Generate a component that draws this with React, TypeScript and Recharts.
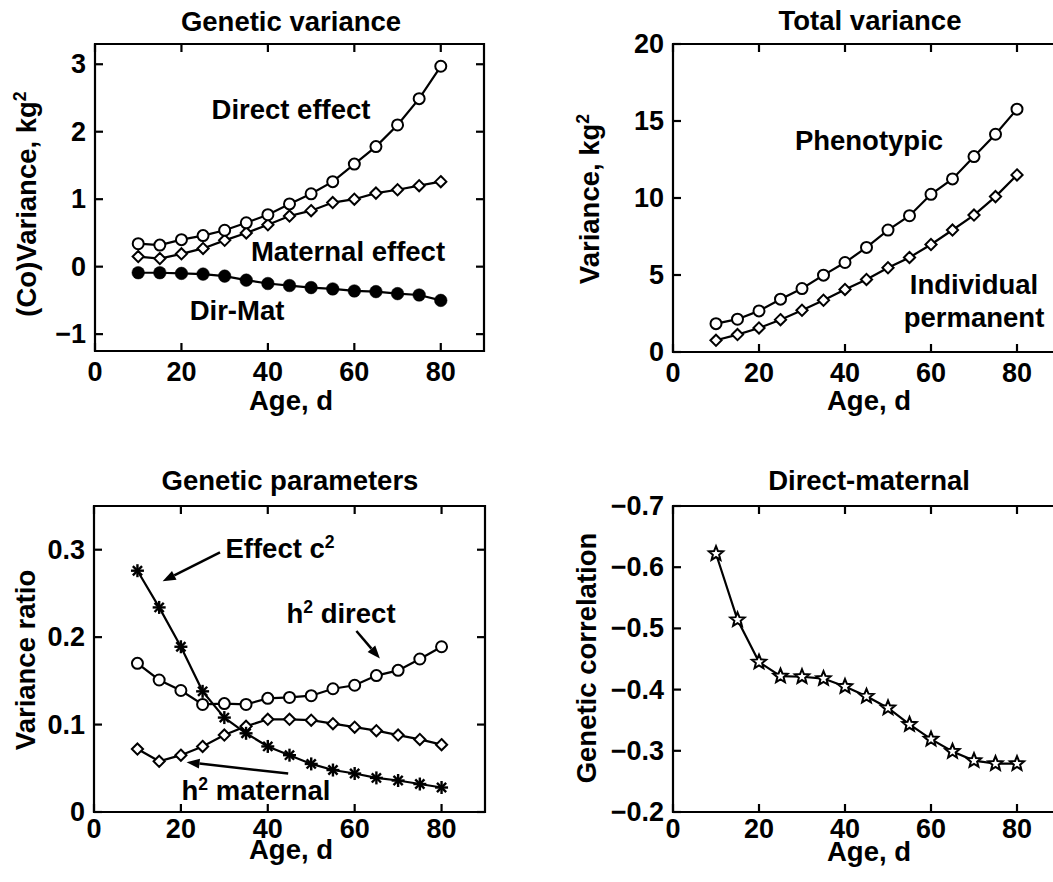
import React from 'react';
import { LineChart, Line, XAxis, YAxis, ReferenceLine, ReferenceArea } from 'recharts';

// ages (d)
const ages = [10, 15, 20, 25, 30, 35, 40, 45, 50, 55, 60, 65, 70, 75, 80];

// Genetic variance, kg^2
const directVar = [0.34, 0.32, 0.4, 0.46, 0.54, 0.65, 0.77, 0.93, 1.08, 1.26, 1.52, 1.78, 2.1, 2.49, 2.97];
const maternalVar = [0.15, 0.12, 0.19, 0.27, 0.39, 0.5, 0.62, 0.75, 0.83, 0.95, 1.0, 1.09, 1.14, 1.2, 1.26];
const dirMatCov = [-0.09, -0.09, -0.1, -0.11, -0.14, -0.2, -0.25, -0.28, -0.31, -0.33, -0.36, -0.37, -0.4, -0.42, -0.5];

// Total variance, kg^2
const phenVar = [1.84, 2.13, 2.67, 3.43, 4.12, 4.99, 5.81, 6.79, 7.92, 8.85, 10.24, 11.24, 12.69, 14.14, 15.77];
const permVar = [0.76, 1.13, 1.56, 2.1, 2.71, 3.36, 4.06, 4.71, 5.47, 6.14, 6.98, 7.92, 8.89, 10.09, 11.5];

// Genetic parameters (variance ratios)
const c2 = [0.276, 0.234, 0.189, 0.138, 0.108, 0.09, 0.075, 0.065, 0.055, 0.048, 0.044, 0.039, 0.036, 0.032, 0.028];
const h2Direct = [0.17, 0.151, 0.139, 0.123, 0.124, 0.123, 0.13, 0.131, 0.133, 0.141, 0.145, 0.156, 0.162, 0.175, 0.189];
const h2Maternal = [0.072, 0.058, 0.065, 0.075, 0.088, 0.098, 0.106, 0.106, 0.105, 0.101, 0.097, 0.093, 0.088, 0.083, 0.077];

// Direct-maternal genetic correlation
const rDirMat = [-0.622, -0.514, -0.445, -0.422, -0.421, -0.418, -0.405, -0.389, -0.37, -0.343, -0.319, -0.299, -0.284, -0.279, -0.279];

// tick labels
const xTicks = [0, 20, 40, 60, 80];
const geneticTicks = [-1, 0, 1, 2, 3];
const totalTicks = [0, 5, 10, 15, 20];
const ratioTicks = [0, 0.1, 0.2, 0.3];
const corrTicks = [-0.7, -0.6, -0.5, -0.4, -0.3, -0.2];

// annotation arrows on the genetic parameters panel (data coords)
const arrows = [
  { from: [29, 0.297], to: [15.8, 0.264] },
  { from: [60.4, 0.207], to: [65.8, 0.1755] },
  { from: [44.7, 0.044], to: [21.3, 0.057] },
];

const geneticRows = ages.map((age, i) => ({ age, direct: directVar[i], maternal: maternalVar[i], dirMat: dirMatCov[i] }));
const totalRows = ages.map((age, i) => ({ age, phen: phenVar[i], perm: permVar[i] }));
const ratioRows = ages.map((age, i) => ({ age, c2: c2[i], h2d: h2Direct[i], h2m: h2Maternal[i] }));
const corrRows = ages.map((age, i) => ({ age, r: rDirMat[i] }));

const FONT = '"Liberation Sans", Arial, Helvetica, sans-serif';
const TICK_LEN = 8;
const SW = 2.2;
const ln = { stroke: '#000', strokeWidth: SW };

const fmt = (v: number) => (v < 0 ? '\u2212' + Math.abs(v) : String(v));

// left axis: label, inward tick on the left edge and (optionally) the right edge
const leftTick = (plotW: number, mirror: boolean) => (props: any) => {
  const { x, y, payload } = props;
  return (
    <g>
      <line x1={x} y1={y} x2={x + TICK_LEN} y2={y} {...ln} />
      {mirror && <line x1={x + plotW} y1={y} x2={x + plotW - TICK_LEN} y2={y} {...ln} />}
      <text x={x - 9} y={y} textAnchor="end" dominantBaseline="central" fontFamily={FONT} fontWeight="bold" fontSize={27} fill="#000">
        {fmt(payload.value)}
      </text>
    </g>
  );
};

// bottom axis: label, inward ticks on the bottom and top edges
const bottomTick = (plotH: number, gap: number) => (props: any) => {
  const { x, y, payload } = props;
  return (
    <g>
      <line x1={x} y1={y} x2={x} y2={y - TICK_LEN} {...ln} />
      <line x1={x} y1={y - plotH} x2={x} y2={y - plotH + TICK_LEN} {...ln} />
      <text x={x} y={y + gap} textAnchor="middle" dominantBaseline="central" fontFamily={FONT} fontWeight="bold" fontSize={27} fill="#000">
        {fmt(payload.value)}
      </text>
    </g>
  );
};

const circleDot = (p: any) => (
  <circle key={`c${p.index}`} cx={p.cx} cy={p.cy} r={5.5} fill="#fff" stroke="#000" strokeWidth={2} />
);
const filledDot = (p: any) => (
  <circle key={`f${p.index}`} cx={p.cx} cy={p.cy} r={6.3} fill="#000" stroke="#000" strokeWidth={0.5} />
);
const diamondDot = (p: any) => {
  const s = 5.6;
  return (
    <path
      key={`d${p.index}`}
      d={`M${p.cx},${p.cy - s}L${p.cx + s},${p.cy}L${p.cx},${p.cy + s}L${p.cx - s},${p.cy}Z`}
      fill="#fff"
      stroke="#000"
      strokeWidth={2}
    />
  );
};
const asteriskDot = (p: any) => {
  const r = 6.5;
  const d = r * 0.707;
  const { cx, cy } = p;
  return (
    <g key={`a${p.index}`} stroke="#000" strokeWidth={2.4}>
      <line x1={cx - r} y1={cy} x2={cx + r} y2={cy} />
      <line x1={cx} y1={cy - r} x2={cx} y2={cy + r} />
      <line x1={cx - d} y1={cy - d} x2={cx + d} y2={cy + d} />
      <line x1={cx - d} y1={cy + d} x2={cx + d} y2={cy - d} />
    </g>
  );
};
const starDot = (p: any) => {
  const R = 7.5;
  const rr = 3.3;
  const pts: string[] = [];
  for (let k = 0; k < 10; k++) {
    const a = -Math.PI / 2 + (k * Math.PI) / 5;
    const rad = k % 2 === 0 ? R : rr;
    pts.push(`${p.cx + rad * Math.cos(a)},${p.cy + rad * Math.sin(a)}`);
  }
  return <polygon key={`s${p.index}`} points={pts.join(' ')} fill="#fff" stroke="#000" strokeWidth={2} strokeLinejoin="miter" />;
};

const arrowShape = (p: any) => {
  const { x1, y1, x2, y2 } = p;
  const ang = Math.atan2(y2 - y1, x2 - x1);
  const L = 13;
  const W = 5;
  const bx = x2 - L * Math.cos(ang);
  const by = y2 - L * Math.sin(ang);
  const nx = -Math.sin(ang) * W;
  const ny = Math.cos(ang) * W;
  return (
    <g>
      <line x1={x1} y1={y1} x2={bx} y2={by} stroke="#000" strokeWidth={2.5} />
      <polygon points={`${x2},${y2} ${bx + nx},${by + ny} ${bx - nx},${by - ny}`} fill="#000" />
    </g>
  );
};

interface PanelProps {
  left: number;
  top: number;
  width: number;
  height: number;
  yW: number;
  mTop: number;
  mRight: number;
  bH: number;
  gap: number;
  yDomain: [number, number];
  yTicks: number[];
  reversed?: boolean;
  mirrorRight?: boolean;
  data: any[];
  children: React.ReactNode;
}

const Panel = ({ left, top, width, height, yW, mTop, mRight, bH, gap, yDomain, yTicks, reversed, mirrorRight = true, data, children }: PanelProps) => {
  const plotH = height - mTop - bH;
  const plotW = width - mRight - yW;
  return (
    <div style={{ position: 'absolute', left, top }}>
      <LineChart width={width} height={height} data={data} margin={{ top: mTop, right: mRight, bottom: 0, left: 0 }}>
        <ReferenceArea x1={0} x2={90} y1={yDomain[0]} y2={yDomain[1]} fill="none" stroke="#000" strokeWidth={SW} ifOverflow="visible" />
        <XAxis dataKey="age" type="number" domain={[0, 90]} ticks={xTicks} interval={0} height={bH} tickSize={0} tickMargin={0}
          tick={bottomTick(plotH, gap)} tickLine={false} axisLine={false} allowDataOverflow />
        <YAxis type="number" domain={yDomain} ticks={yTicks} interval={0} width={yW} reversed={reversed} tickSize={0} tickMargin={0}
          tick={leftTick(plotW, mirrorRight)} tickLine={false} axisLine={false} allowDataOverflow />
        {children}
      </LineChart>
    </div>
  );
};

const Txt = ({ x, y, size = 27.5, rotate = false, children }: { x: number; y: number; size?: number; rotate?: boolean; children: React.ReactNode }) => (
  <div
    style={{
      position: 'absolute',
      left: x,
      top: y,
      transform: `translate(-50%, -50%)${rotate ? ' rotate(-90deg)' : ''}`,
      fontFamily: FONT,
      fontWeight: 'bold',
      fontSize: size,
      lineHeight: 1,
      whiteSpace: 'nowrap',
      color: '#000',
    }}
  >
    {children}
  </div>
);

const Sup = ({ children }: { children: React.ReactNode }) => (
  <span style={{ fontSize: '0.64em', position: 'relative', top: '-0.55em' }}>{children}</span>
);

const lineProps = { type: 'linear' as const, stroke: '#000', strokeWidth: 2.2, isAnimationActive: false, activeDot: false };

export default function App() {
  return (
    <div style={{ position: 'absolute', left: 0, top: 0, width: 1053, height: 882, overflow: 'hidden', background: '#fff' }}>
      <Panel left={0} top={0} width={500} height={420} yW={95} mTop={44} mRight={16} bH={69} gap={21} yDomain={[-1.25, 3.3]} yTicks={geneticTicks} data={geneticRows}>
        <Line {...lineProps} dataKey="maternal" dot={diamondDot} />
        <Line {...lineProps} dataKey="direct" dot={circleDot} />
        <Line {...lineProps} dataKey="dirMat" dot={filledDot} />
      </Panel>

      <Panel left={530} top={0} width={546} height={420} yW={143} mTop={44} mRight={16} bH={68} gap={21} yDomain={[0, 20]} yTicks={totalTicks} mirrorRight={false} data={totalRows}>
        <Line {...lineProps} dataKey="perm" dot={diamondDot} />
        <Line {...lineProps} dataKey="phen" dot={circleDot} />
      </Panel>

      <Panel left={0} top={440} width={500} height={440} yW={94} mTop={66} mRight={15} bH={68} gap={17} yDomain={[0, 0.35]} yTicks={ratioTicks} data={ratioRows}>
        <Line {...lineProps} dataKey="h2m" dot={diamondDot} />
        <Line {...lineProps} dataKey="h2d" dot={circleDot} />
        <Line {...lineProps} dataKey="c2" dot={asteriskDot} />
        {arrows.map((a, i) => (
          <ReferenceLine
            key={`arr${i}`}
            segment={[{ x: a.from[0], y: a.from[1] }, { x: a.to[0], y: a.to[1] }]}
            shape={arrowShape}
            ifOverflow="visible"
          />
        ))}
      </Panel>

      <Panel left={530} top={440} width={546} height={440} yW={143} mTop={66} mRight={16} bH={68} gap={17} yDomain={[-0.7, -0.2]} yTicks={corrTicks} reversed mirrorRight={false} data={corrRows}>
        <Line {...lineProps} dataKey="r" dot={starDot} />
      </Panel>

      {/* titles */}
      <Txt x={291} y={22}>Genetic variance</Txt>
      <Txt x={870} y={21}>Total variance</Txt>
      <Txt x={290} y={481}>Genetic parameters</Txt>
      <Txt x={869} y={481}>Direct-maternal</Txt>

      {/* axis titles */}
      <Txt x={291} y={401}>Age, d</Txt>
      <Txt x={869} y={401}>Age, d</Txt>
      <Txt x={291} y={850}>Age, d</Txt>
      <Txt x={869} y={852}>Age, d</Txt>
      <Txt x={27} y={204} rotate>(Co)Variance, kg<Sup>2</Sup></Txt>
      <Txt x={590} y={199} rotate>Variance, kg<Sup>2</Sup></Txt>
      <Txt x={26} y={660} rotate>Variance ratio</Txt>
      <Txt x={587} y={658} rotate>Genetic correlation</Txt>

      {/* in-plot labels */}
      <Txt x={291} y={110}>Direct effect</Txt>
      <Txt x={348} y={252}>Maternal effect</Txt>
      <Txt x={237} y={311}>Dir-Mat</Txt>
      <Txt x={869} y={141}>Phenotypic</Txt>
      <Txt x={974} y={285}>Individual</Txt>
      <Txt x={974} y={318}>permanent</Txt>
      <Txt x={280} y={549}>Effect c<Sup>2</Sup></Txt>
      <Txt x={341} y={614}>h<Sup>2</Sup> direct</Txt>
      <Txt x={256} y={791}>h<Sup>2</Sup> maternal</Txt>
    </div>
  );
}
